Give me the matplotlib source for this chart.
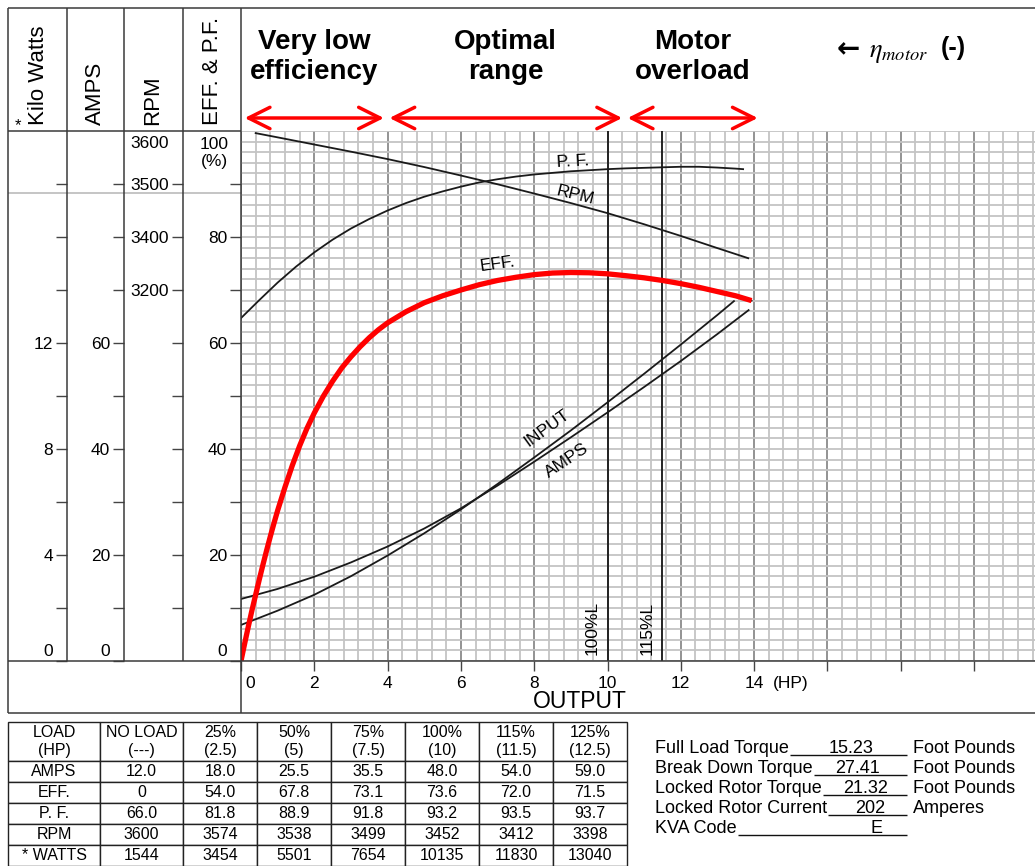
import matplotlib.pyplot as plt
import matplotlib.transforms as mtransforms
from matplotlib.ticker import MultipleLocator
import numpy as np

plt.rcParams['font.family'] = ['Liberation Sans', 'DejaVu Sans']

#Криві двигуна: потужність на валу (HP) -> значення у % шкали EFF. & P.F.
eff_hp = [0, 0.1, 0.2, 0.3, 0.4, 0.5, 0.6, 0.7, 0.8, 0.9, 1.0, 1.2, 1.4, 1.6, 1.8, 2.0, 2.25, 2.5, 2.75,
          3.0, 3.25, 3.5, 3.75, 4.0, 4.5, 5.0, 5.5, 6.0, 6.5, 7.0, 7.5, 8.0, 8.5, 9.0, 9.5, 10.0, 10.5,
          11.0, 11.5, 12.0, 12.5, 13.0, 13.5, 13.93]
eff_pct = [0, 3.3, 6.5, 9.6, 12.5, 15.4, 18.2, 20.9, 23.5, 26.0, 28.4, 32.8, 36.9, 40.6, 43.9, 46.8, 50.0,
           52.8, 55.3, 57.4, 59.3, 61.0, 62.5, 63.8, 65.9, 67.6, 68.9, 70.0, 71.0, 71.8, 72.4, 72.9, 73.2,
           73.3, 73.25, 73.05, 72.7, 72.3, 71.8, 71.2, 70.5, 69.7, 68.9, 68.0]

pf_hp = [0, 0.5, 1.0, 1.5, 2.0, 2.5, 3.0, 3.5, 4.0, 4.5, 5.0, 5.5, 6.0, 6.5, 7.0, 7.5, 8.0, 8.5, 9.0,
         9.5, 10.0, 10.5, 11.0, 11.5, 12.0, 12.5, 13.0, 13.5, 13.7]
pf_pct = [64.7, 68.1, 71.4, 74.4, 77.1, 79.5, 81.6, 83.4, 85.0, 86.4, 87.6, 88.6, 89.5, 90.3, 90.9, 91.4,
          91.8, 92.1, 92.4, 92.6, 92.8, 92.95, 93.05, 93.15, 93.25, 93.25, 93.1, 92.9, 92.8]

rpm_hp = [0.4, 1, 2, 3, 4, 5, 6, 7, 8, 9, 10, 11, 12, 13, 13.84]
rpm_pct = [99.6, 98.8, 97.45, 96.1, 94.7, 93.2, 91.6, 89.95, 88.2, 86.4, 84.5, 82.4, 80.2, 77.9, 76.0]

amps_hp = [0, 1, 2, 3, 4, 5, 6, 7, 8, 9, 10, 11, 12, 13, 13.85]
amps_pct = [11.7, 13.6, 15.9, 18.6, 21.6, 25.0, 28.8, 33.1, 37.6, 42.2, 46.9, 51.7, 56.6, 61.7, 66.2]

input_hp = [0, 1, 2, 3, 4, 5, 6, 7, 8, 9, 10, 11, 12, 13, 13.45]
input_pct = [6.8, 9.5, 12.5, 16.0, 19.9, 24.1, 28.6, 33.4, 38.4, 43.5, 48.8, 54.2, 59.7, 65.3, 67.9]

#Лінії 100% та 115% навантаження
load_lines = [10, 11.5]
load_names = ["100%L", "115%L"]

#Зони роботи двигуна (HP)
zone_start = [0.1, 4.05, 10.55]
zone_end = [3.9, 10.4, 14.1]
zone_names = ["Very low\nefficiency", "Optimal\nrange", "Motor\noverload"]

#Таблиця характеристик
table_rows = [
    ["LOAD\n(HP)", "NO LOAD\n(---)", "25%\n(2.5)", "50%\n(5)", "75%\n(7.5)", "100%\n(10)", "115%\n(11.5)", "125%\n(12.5)"],
    ["AMPS", "12.0", "18.0", "25.5", "35.5", "48.0", "54.0", "59.0"],
    ["EFF.", "0", "54.0", "67.8", "73.1", "73.6", "72.0", "71.5"],
    ["P. F.", "66.0", "81.8", "88.9", "91.8", "93.2", "93.5", "93.7"],
    ["RPM", "3600", "3574", "3538", "3499", "3452", "3412", "3398"],
    ["* WATTS", "1544", "3454", "5501", "7654", "10135", "11830", "13040"],
]

info_labels = ["Full Load Torque", "Break Down Torque", "Locked Rotor Torque", "Locked Rotor Current", "KVA Code"]
info_values = ["15.23", "27.41", "21.32", "202", "E"]
info_units = ["Foot Pounds", "Foot Pounds", "Foot Pounds", "Amperes", ""]

W, H = 1035, 866
fig = plt.figure(figsize=(W / 100, H / 100), dpi=100)


def px_box(x0, y0, x1, y1):
    return [x0 / W, 1 - y1 / H, (x1 - x0) / W, (y1 - y0) / H]


#Основне поле з сіткою
ax = fig.add_axes(px_box(241, 131, 1035, 661))
ax.set_xlim(0, 794 / 36.65)
ax.set_ylim(0, 100)
xt = np.arange(0, 21, 2)
ax.set_xticks(xt, labels=['' if v == 0 or v > 14 else str(v) for v in xt])
ax.set_yticks(np.arange(0, 100, 10), labels=['', '', '20', '', '40', '', '60', '', '80', ''])
ax.xaxis.set_minor_locator(MultipleLocator(0.4))
ax.yaxis.set_minor_locator(MultipleLocator(2))
ax.tick_params(which='minor', length=0)
ax.tick_params(axis='x', which='major', direction='out', length=7.5, width=1, color='#444', labelsize=12.5, pad=3)
ax.tick_params(axis='y', which='major', direction='out', length=8, width=1, color='#444', labelsize=12.5, pad=2)
ax.grid(which='minor', color='#c4c4c4', lw=1.3)
ax.grid(which='major', axis='y', color='#c4c4c4', lw=1.3)
ax.grid(which='major', axis='x', color='#8a8a8a', lw=1.3)
ax.set_axisbelow(True)
for s in ax.spines.values():
    s.set_visible(False)

for x, name in zip(load_lines, load_names):
    ax.axvline(x, color='#222', lw=1.4)
    ax.text(x - 0.42, 1.2, name, rotation=90, ha='center', va='bottom', fontsize=12.5)

curve_kw = dict(color='#1a1a1a', lw=1.3, solid_joinstyle='round')
ax.plot(rpm_hp, rpm_pct, **curve_kw)
ax.plot(pf_hp, pf_pct, **curve_kw)
ax.plot(amps_hp, amps_pct, **curve_kw)
ax.plot(input_hp, input_pct, **curve_kw)
ax.plot(eff_hp, eff_pct, **curve_kw)
ax.plot(eff_hp, eff_pct, color='red', lw=3.8, solid_capstyle='butt', solid_joinstyle='round')

ax.text(9.06, 94.3, "P. F.", rotation=3, ha='center', va='center', fontsize=12.5)
ax.text(9.11, 87.9, "RPM", rotation=-14, ha='center', va='center', fontsize=12.5)
ax.text(7.0, 74.8, "EFF.", rotation=8, ha='center', va='center', fontsize=12.5)
ax.text(8.34, 44.0, "INPUT", rotation=36, ha='center', va='center', fontsize=12.5)
ax.text(8.89, 37.8, "AMPS", rotation=34, ha='center', va='center', fontsize=12.5)

x_lab = mtransforms.offset_copy(ax.get_xaxis_transform(), fig=fig, x=4, y=-15, units='dots')
ax.text(0, 0, '0', transform=x_lab, ha='left', va='top', fontsize=12.5)
hp_lab = mtransforms.offset_copy(ax.get_xaxis_transform(), fig=fig, x=0, y=-15, units='dots')
ax.text(15.0, 0, '(HP)', transform=hp_lab, ha='center', va='top', fontsize=12.5)


#Допоміжні шкали ліворуч
def scale_axis(x_px, top, ticks, labels):
    s = fig.add_axes(px_box(x_px, 131, x_px + 1, 661))
    s.set_ylim(0, top)
    s.set_yticks(ticks, labels=labels)
    s.set_xticks([])
    s.tick_params(axis='y', direction='out', length=8, width=1, color='#444', labelsize=12.5, pad=2)
    for sp in s.spines.values():
        sp.set_visible(False)
    s.patch.set_visible(False)
    return s


kw_ax = scale_axis(67, 20, np.arange(0, 20, 2), ['', '', '4', '', '8', '', '12', '', '', ''])
amps_ax = scale_axis(124, 100, np.arange(0, 100, 10), ['', '', '20', '', '40', '', '60', '', '', ''])
rpm_ax = scale_axis(183, 100, np.arange(10, 100, 10), ['', '', '', '', '', '', '3200', '3400', '3500'])

for a in [kw_ax, amps_ax, ax]:
    tr = mtransforms.offset_copy(a.get_yaxis_transform(), fig=fig, x=-14, y=2, units='dots')
    a.text(0, 0, '0', transform=tr, ha='right', va='bottom', fontsize=12.5)

#Рамка, заголовки та підписи
fr = fig.add_axes([0, 0, 1, 1])
fr.set_xlim(0, W)
fr.set_ylim(H, 0)
fr.axis('off')
fr.patch.set_visible(False)

fr.hlines([8, 661, 713], 8, W, color='#3a3a3a', lw=1.1)
fr.hlines(131, 8, 241, color='#3a3a3a', lw=1.1)
fr.hlines(193, 8, 241, color='#b5b5b5', lw=1.1)
fr.vlines([8, 241], 8, 713, color='#3a3a3a', lw=1.1)
fr.vlines([67, 124, 183], 8, 661, color='#3a3a3a', lw=1.1)

for x, name in zip([38, 95, 153, 213], ["Kilo Watts", "AMPS", "RPM", "EFF. & P.F."]):
    fr.text(x, 125, name, rotation=90, ha='center', va='bottom', fontsize=16)
fr.text(18, 126, '*', ha='center', va='center', fontsize=12)
fr.text(150, 143, '3600', ha='center', va='center', fontsize=12.5)
fr.text(214, 153, '100\n(%)', ha='center', va='center', fontsize=12.5, linespacing=1.15)
fr.text(580, 702, 'OUTPUT', ha='center', va='center', fontsize=16.5)

hdr = mtransforms.blended_transform_factory(ax.transData, fr.transData)
for x0, x1, name in zip(zone_start, zone_end, zone_names):
    ax.text((x0 + x1) / 2, 57, name, transform=hdr, ha='center', va='center',
            fontsize=20, fontweight='bold', linespacing=1.2, clip_on=False)
    ax.annotate('', xy=(x1, 118), xytext=(x0, 118), xycoords=hdr, textcoords=hdr,
                arrowprops=dict(arrowstyle='<->,head_length=0.7,head_width=0.35', color='red',
                                lw=2.5, shrinkA=0, shrinkB=0, mutation_scale=22),
                annotation_clip=False)

fr.text(848, 49, '\u2190', ha='center', va='center', fontsize=20, fontweight='bold', family='DejaVu Sans')
fr.text(869, 53, r'$\eta_{motor}$', ha='left', va='center', fontsize=19, math_fontfamily='stix')
fr.text(953, 48, '(-)', ha='center', va='center', fontsize=18, fontweight='bold')

#Таблиця внизу
tab_ax = fig.add_axes(px_box(8, 722, 627, 866))
tab_ax.axis('off')
tbl = tab_ax.table(cellText=table_rows, cellLoc='center', bbox=[0, 0, 1, 1])
tbl.auto_set_font_size(False)
tbl.set_fontsize(11.5)
col_w = [92, 83, 74, 74, 74, 74, 74, 74]
for (r, c), cell in tbl.get_celld().items():
    cell.set_width(col_w[c])
    cell.set_height(39 if r == 0 else 21)
    cell.set_edgecolor('#222')
    cell.set_linewidth(1.0)
    cell.PAD = 0.02

#Дані двигуна праворуч
fig.canvas.draw()
renderer = fig.canvas.get_renderer()
value_x = [851, 857, 866, 870, 876]
for i, (lab, val, unit) in enumerate(zip(info_labels, info_values, info_units)):
    yb = 753 + 20 * i
    t = fr.text(655, yb, lab, ha='left', va='baseline', fontsize=13)
    bb = t.get_window_extent(renderer)
    fr.hlines(yb + 2, bb.x1 + 1, 907, color='#111', lw=1.0)
    fr.text(value_x[i], yb, val, ha='center', va='baseline', fontsize=13)
    if unit:
        fr.text(913, yb, unit, ha='left', va='baseline', fontsize=13)

fig.savefig('out.png', dpi=100)
